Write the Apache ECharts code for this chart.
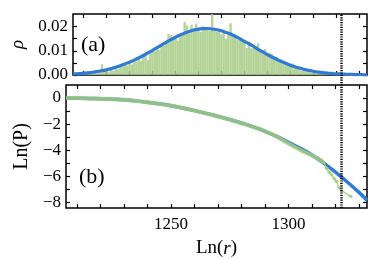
<!DOCTYPE html>
<html><head><meta charset="utf-8">
<script src="https://cdn.jsdelivr.net/npm/echarts@6/dist/echarts.min.js"></script>
<style>html,body{margin:0;padding:0;background:#fff}#c{width:382px;height:259px}</style>
</head><body><div id="c"></div>
<script>
// ---- data ----
const histBins = [1206,1207,1208,1209,1210,1211,1212,1213,1214,1215,1216,1217,1218,1219,1220,1221,1222,1223,1224,1225,1226,1227,1228,1229,1230,1231,1232,1233,1234,1235,1236,1237,1238,1239,1240,1241,1242,1243,1244,1245,1246,1247,1248,1249,1250,1251,1252,1253,1254,1255,1256,1257,1258,1259,1260,1261,1262,1263,1264,1265,1266,1267,1268,1269,1270,1271,1272,1273,1274,1275,1276,1277,1278,1279,1280,1281,1282,1283,1284,1285,1286,1287,1288,1289,1290,1291,1292,1293,1294,1295,1296,1297,1298,1299,1300,1301,1302,1303,1304,1305,1306,1307,1308,1309,1310,1311,1312,1313,1314,1315,1316,1317,1318,1319,1320];
const histRho = [0.0003,0,0.0004,0.0002,0.0006,0.0003,0.0008,0.0005,0.0007,0.0010,0.0006,0.0012,0.0044,0.0016,0.0021,0.0011,0.0026,0.0018,0.0031,0.0024,0.0040,0.0035,0.0047,0.0039,0.0050,0.0044,0.0061,0.0055,0.0068,0.0059,0.0081,0.0078,0.0062,0.0094,0.0101,0.0098,0.0112,0.0105,0.0128,0.0121,0.0134,0.0170,0.0165,0.0148,0.0158,0.0142,0.0166,0.0175,0.0219,0.0205,0.0172,0.0208,0.0186,0.0212,0.0194,0.0178,0.0201,0.0188,0.0196,0.0182,0.0253,0.0190,0.0178,0.0185,0.0168,0.0176,0.0150,0.0173,0.0214,0.0161,0.0168,0.0145,0.0156,0.0139,0.0147,0.0112,0.0138,0.0110,0.0124,0.0118,0.0131,0.0104,0.0099,0.0108,0.0083,0.0092,0.0086,0.0068,0.0074,0.0057,0.0064,0.0060,0.0045,0.0049,0.0038,0.0047,0.0031,0.0025,0.0029,0.0019,0.0022,0.0015,0.0017,0.0011,0.0013,0.0008,0.0010,0.0006,0.0007,0.0004,0.0005,0.0002,0.0003,0,0.0001];

const fitX = [1205.4,1206,1208,1210,1212,1214,1216,1218,1220,1222,1224,1226,1228,1230,1232,1234,1236,1238,1240,1242,1244,1246,1248,1250,1252,1254,1256,1258,1260,1262,1264,1266,1268,1270,1272,1274,1276,1278,1280,1282,1284,1286,1288,1290,1292,1294,1296,1298,1300,1302,1304,1306,1308,1310,1312,1314,1316,1318,1320,1322,1324,1326,1328,1330,1332,1333.4];
const fitRho = [0.00042,0.00045,0.00055,0.00071,0.00091,0.00114,0.00143,0.00177,0.00218,0.00265,0.00319,0.00381,0.00451,0.00529,0.00614,0.00707,0.00806,0.00911,0.0102,0.0113,0.0124,0.0135,0.0146,0.0156,0.0165,0.0173,0.0180,0.0186,0.01894,0.01916,0.0192,0.0190,0.0187,0.0183,0.0176,0.0169,0.0160,0.0150,0.0139,0.0129,0.0118,0.0106,0.00952,0.00845,0.00745,0.00650,0.00563,0.00483,0.00407,0.00343,0.00286,0.00236,0.00192,0.00156,0.00125,0.00099,0.00080,0.00065,0.00052,0.00042,0.00033,0.00026,0.00020,0.00015,0.00011,0.00009];

const lnX = [1205.4,1210,1215,1220,1225,1230,1235,1240,1245,1250,1255,1260,1265,1270,1275,1280,1285,1290,1295,1300,1305,1310,1315,1320,1325,1330,1333.4];
const lnFit = [0,-0.01,-0.03,-0.06,-0.09,-0.13,-0.22,-0.33,-0.45,-0.59,-0.77,-0.97,-1.18,-1.41,-1.65,-1.92,-2.22,-2.56,-2.95,-3.40,-3.87,-4.37,-5.0,-5.70,-6.45,-7.25,-7.85];

const empX = [1205.4,1210,1215,1220,1225,1230,1235,1240,1245,1250,1255,1260,1265,1270,1275,1280,1285,1290,1295,1298,1302,1306,1310,1313,1315];
const empLn = [0.02,0,-0.03,-0.06,-0.10,-0.14,-0.22,-0.33,-0.45,-0.60,-0.77,-0.96,-1.18,-1.42,-1.66,-1.93,-2.22,-2.55,-2.95,-3.28,-3.70,-4.08,-4.42,-4.70,-4.95];
const tailX = [1315,1316.2,1317.3,1318.3,1319.5,1320.4,1321.5,1322.5,1326.5];
const tailLn = [-4.95,-5.4,-5.7,-5.9,-6.2,-6.4,-6.9,-7.1,-7.57];

const cutoffX = 1322.6;
const xTicks = [1210,1220,1230,1240,1250,1260,1270,1280,1290,1300,1310,1320,1330];
const xLabels = [1250,1300];
const rhoTicks = [0,0.005,0.01,0.015,0.02];
const rhoLabels = [0,0.01,0.02];
const lnTicks = [0,-1,-2,-3,-4,-5,-6,-7,-8];
const lnLabels = [0,-2,-4,-6,-8];

// ---- chart ----
const XMIN = 1205.4, XMAX = 1333.4;
const RHO_MAX = 0.0252, LN_MIN = -8.45, LN_MAX = 1.0;
const serif = 'Liberation Serif';
const BLUE = '#2f7bd6', GREEN = 'rgba(160,203,125,0.85)', BAR = 'rgba(168,205,135,0.85)';
const tick = {inside:true, length:4, lineStyle:{color:'#000', width:1.2}};
function xax(grid, pos, labels){
  return {type:'value', gridIndex:grid, position:pos, min:XMIN, max:XMAX,
    axisLine:{show:false, onZero:false}, splitLine:{show:false},
    axisTick:Object.assign({customValues:xTicks}, tick),
    axisLabel:labels ? {customValues:xLabels, formatter:v=>String(v), fontFamily:serif, fontSize:17, color:'#000', margin:8} : {show:false}};
}
function yax(grid, pos, min, max, ticks, labels, fmt, name, gap){
  const a = {type:'value', gridIndex:grid, position:pos, min:min, max:max,
    axisLine:{show:false, onZero:false}, splitLine:{show:false},
    axisTick:Object.assign({customValues:ticks}, tick),
    axisLabel:labels ? {customValues:labels, formatter:fmt, fontFamily:serif, fontSize:17, color:'#000', margin:5} : {show:false}};
  if (name){ a.name=name; a.nameLocation='middle'; a.nameRotate=90; a.nameGap=gap; }
  return a;
}
const hidden = {axisLine:{show:false}, axisTick:{show:false}, axisLabel:{show:false}, splitLine:{show:false}};
const chart = echarts.init(document.getElementById('c'), null, {renderer:'canvas'});
const zip = (a,b)=>a.map((v,i)=>[v,b[i]]);
chart.setOption({
  animation:false,
  grid:[
    {left:66, right:15, top:14, height:61, show:true, borderColor:'#000', borderWidth:1.5, backgroundColor:'transparent'},
    {left:66, right:15, top:85, height:123, show:true, borderColor:'#000', borderWidth:1.5, backgroundColor:'transparent'},
    {left:66, right:15, top:14, height:194, show:false}
  ],
  xAxis:[
    xax(0,'bottom',false), xax(0,'top',false),
    Object.assign(xax(1,'bottom',true), {name:'{a|Ln(}{b|r}{a|)}', nameLocation:'middle', nameGap:31,
      nameTextStyle:{rich:{a:{fontFamily:serif, fontSize:19, color:'#000'}, b:{fontFamily:serif, fontSize:19, fontStyle:'italic', color:'#000'}}}}),
    xax(1,'top',false),
    Object.assign({type:'value', gridIndex:2, min:XMIN, max:XMAX}, hidden)
  ],
  yAxis:[
    Object.assign(yax(0,'left',0,RHO_MAX,rhoTicks,rhoLabels,v=>v.toFixed(2),'ρ',46),
      {nameTextStyle:{fontFamily:serif, fontSize:19, fontStyle:'italic', color:'#000'}}),
    yax(0,'right',0,RHO_MAX,rhoTicks,null),
    Object.assign(yax(1,'left',LN_MIN,LN_MAX,lnTicks,lnLabels,v=>String(v).replace('-','\u2212'),'Ln(P)',31),
      {nameTextStyle:{fontFamily:serif, fontSize:20, color:'#000'}}),
    yax(1,'right',LN_MIN,LN_MAX,lnTicks,null),
    Object.assign({type:'value', gridIndex:2, min:0, max:1}, hidden)
  ],
  graphic:[
    {type:'text', left:81, top:34, style:{text:'(a)', font:'22px "Liberation Serif"', fill:'#000'}},
    {type:'text', left:79, top:166, style:{text:'(b)', font:'22px "Liberation Serif"', fill:'#000'}}
  ],
  series:[
    {type:'bar', xAxisIndex:0, yAxisIndex:0, data:zip(histBins,histRho), barWidth:2.4, barGap:'-100%',
      itemStyle:{color:BAR}, silent:true},
    {type:'line', xAxisIndex:0, yAxisIndex:0, data:zip(fitX,fitRho), smooth:true, showSymbol:false,
      lineStyle:{color:BLUE, width:3.2}, z:3},
    {type:'line', xAxisIndex:2, yAxisIndex:2, data:zip(lnX,lnFit), smooth:true, showSymbol:false,
      lineStyle:{color:BLUE, width:3.5}, z:2},
    {type:'line', xAxisIndex:2, yAxisIndex:2, data:zip(empX,empLn), smooth:true, showSymbol:false,
      lineStyle:{color:GREEN, width:4}, z:3},
    {type:'line', xAxisIndex:2, yAxisIndex:2, data:zip(tailX,tailLn), showSymbol:true, symbol:'circle', symbolSize:3.5,
      itemStyle:{color:GREEN}, lineStyle:{color:GREEN, width:1.5}, z:4},
    {type:'line', xAxisIndex:4, yAxisIndex:4, data:[[cutoffX,0.5]], showSymbol:false, lineStyle:{width:0}, z:10,
      markLine:{silent:true, symbol:'none', label:{show:false}, lineStyle:{color:'#000', type:[1.2,1.2], width:2.5},
        data:[{xAxis:cutoffX}]}}
  ]
});
</script></body></html>
